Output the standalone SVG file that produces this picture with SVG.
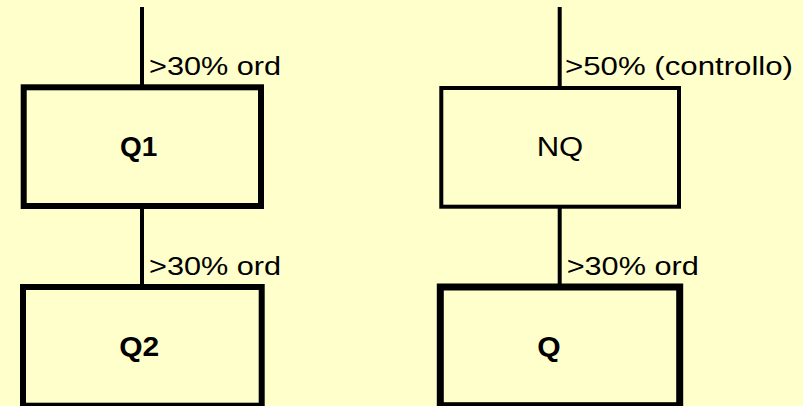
<svg xmlns="http://www.w3.org/2000/svg" width="803" height="406" viewBox="0 0 803 406">
<style>
  .bg { fill: #FFFFCC; }
  .box { fill: #FFFFCC; stroke: #000; }
  .thick { stroke-width: 6; }
  .thin { stroke-width: 4; }
  .conn line { stroke: #000; stroke-width: 4; }
  text { font-family: "Liberation Sans", Arial, sans-serif; fill: #000; }
  .lbl { font-size: 26px; }
  .name { font-size: 27px; }
  .bold { font-weight: bold; }
</style>
<rect class="bg" x="0" y="0" width="803" height="406"/>
<g id="connectors" class="conn">
  <line x1="142" y1="7" x2="142" y2="87"/>
  <line x1="142" y1="206" x2="142" y2="287"/>
  <line x1="559.7" y1="7" x2="559.7" y2="88"/>
  <line x1="559.7" y1="206.7" x2="559.7" y2="287"/>
</g>
<g id="labels">
  <text class="lbl" x="149" y="75" textLength="132" lengthAdjust="spacingAndGlyphs">&gt;30% ord</text>
  <text class="lbl" x="149" y="275" textLength="132" lengthAdjust="spacingAndGlyphs">&gt;30% ord</text>
  <text class="lbl" x="565" y="75" textLength="228" lengthAdjust="spacingAndGlyphs">&gt;50% (controllo)</text>
  <text class="lbl" x="566.7" y="275" textLength="132" lengthAdjust="spacingAndGlyphs">&gt;30% ord</text>
</g>
<g id="Q1">
  <rect class="box thick" x="23.7" y="87.3" width="237.3" height="118.7"/>
  <text class="name bold" x="120" y="156" textLength="37.3" lengthAdjust="spacingAndGlyphs">Q1</text>
</g>
<g id="Q2">
  <rect class="box thick" x="23" y="287" width="238.7" height="118.7"/>
  <text class="name bold" x="119.3" y="355.5" textLength="40" lengthAdjust="spacingAndGlyphs">Q2</text>
</g>
<g id="NQ">
  <rect class="box thin" x="441.3" y="88" width="237.7" height="118.7"/>
  <text class="name" x="536.7" y="155.5" textLength="46.6" lengthAdjust="spacingAndGlyphs">NQ</text>
</g>
<g id="Q">
  <rect class="box thick" x="440.3" y="287" width="239.4" height="118.7" style="stroke-width:7"/>
  <text class="name bold" x="537.3" y="355.5" textLength="23.4" lengthAdjust="spacingAndGlyphs">Q</text>
</g>
</svg>
